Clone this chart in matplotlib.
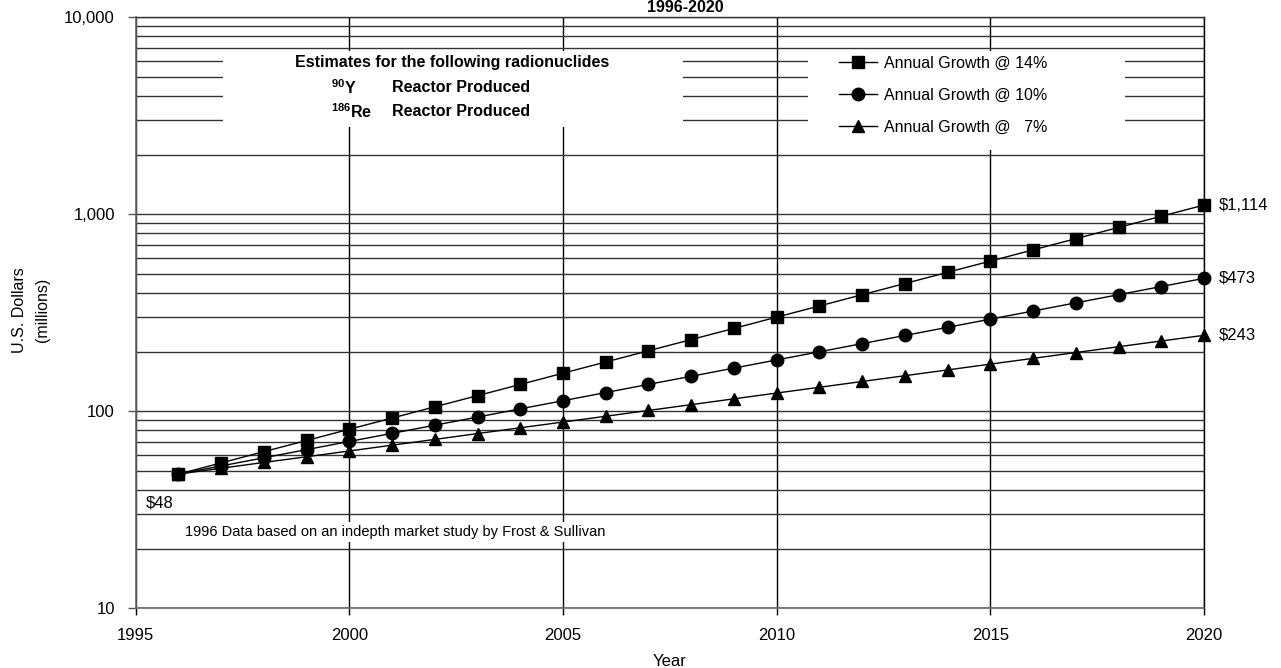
import matplotlib
matplotlib.use("Agg")
import matplotlib.pyplot as plt
from matplotlib.ticker import FixedLocator, LogLocator, NullFormatter, FixedFormatter
from matplotlib.patches import Rectangle

# ---------------- data ----------------
years = list(range(1996, 2021))
growth_14 = [48, 54.7, 62.4, 71.1, 81.1, 92.4, 105.4, 120.1, 136.9, 156.1, 178.0, 202.9,
             231.3, 263.6, 300.6, 342.6, 390.6, 445.3, 507.6, 578.7, 659.7, 752.1, 857.4,
             977.4, 1114]
growth_10 = [48, 52.8, 58.1, 63.9, 70.3, 77.3, 85.0, 93.5, 102.9, 113.2, 124.5, 137.0,
             150.6, 165.7, 182.3, 200.5, 220.6, 242.6, 266.9, 293.6, 322.9, 355.2, 390.7,
             429.8, 473]
growth_7 = [48, 51.4, 55.0, 58.8, 62.9, 67.3, 72.0, 77.1, 82.5, 88.2, 94.4, 101.0,
            108.1, 115.7, 123.8, 132.4, 141.7, 151.6, 162.2, 173.6, 185.7, 198.7, 212.7,
            227.5, 243]
series_labels = ["Annual Growth @ 14%", "Annual Growth @ 10%", "Annual Growth @   7%"]
series_markers = ["s", "o", "^"]
end_labels = ["$1,114", "$473", "$243"]
start_label = "$48"
x_ticks = [1995, 2000, 2005, 2010, 2015, 2020]
x_tick_labels = ["1995", "2000", "2005", "2010", "2015", "2020"]
y_ticks = [10, 100, 1000, 10000]
y_tick_labels = ["10", "100", "1,000", "10,000"]
title_text = "1996-2020"
box_line1 = "Estimates for the following radionuclides"
isotopes = [r"$^{90}$Y", r"$^{186}$Re"]
isotope_desc = ["Reactor Produced", "Reactor Produced"]
note_text = "1996 Data based on an indepth market study by Frost & Sullivan"
x_label = "Year"
y_label = "U.S. Dollars\n(millions)"

# ---------------- style ----------------
plt.rcParams["font.family"] = ["Liberation Sans", "DejaVu Sans"]
plt.rcParams["mathtext.fontset"] = "custom"
plt.rcParams["mathtext.rm"] = "Liberation Sans:bold"
plt.rcParams["mathtext.bf"] = "Liberation Sans:bold"
plt.rcParams["mathtext.it"] = "Liberation Sans:bold"

W, H = 1281, 668
fig = plt.figure(figsize=(W / 100, H / 100), dpi=100)
ax_l, ax_r, ax_t, ax_b = 135.7, 1204.0, 17.3, 608.3
ax = fig.add_axes([ax_l / W, 1 - ax_b / H, (ax_r - ax_l) / W, (ax_b - ax_t) / H])


def fx(px):
    return px / W


def fy(py):
    return 1 - py / H


def axx(px):
    return (px - ax_l) / (ax_r - ax_l)


def axy(py):
    return (ax_b - py) / (ax_b - ax_t)


ax.set_yscale("log")
ax.set_xlim(1995, 2020)
ax.set_ylim(10, 10000)

ax.yaxis.set_major_locator(FixedLocator(y_ticks))
ax.yaxis.set_major_formatter(FixedFormatter(y_tick_labels))
ax.yaxis.set_minor_locator(LogLocator(base=10, subs=[2, 3, 4, 5, 6, 7, 8, 9]))
ax.yaxis.set_minor_formatter(NullFormatter())
ax.xaxis.set_major_locator(FixedLocator(x_ticks))
ax.xaxis.set_major_formatter(FixedFormatter(x_tick_labels))

ax.tick_params(axis="y", which="major", direction="out", length=6, width=1,
               color="#555555", labelsize=12, pad=9)
ax.tick_params(axis="y", which="minor", length=0)
ax.tick_params(axis="x", which="major", direction="out", length=5, width=1,
               color="black", labelsize=12, pad=9)

ax.set_axisbelow(True)
ax.grid(True, axis="y", which="both", color="#333333", linewidth=1.0)
ax.grid(True, axis="x", which="major", color="black", linewidth=1.0)
ax.spines["top"].set_color("#333333")
ax.spines["top"].set_linewidth(1.0)
ax.spines["right"].set_color("black")
ax.spines["right"].set_linewidth(1.0)
ax.spines["left"].set_color("#666666")
ax.spines["bottom"].set_color("#666666")
ax.spines["left"].set_linewidth(1.2)
ax.spines["bottom"].set_linewidth(1.2)

# white boxes covering gridlines
ax.add_patch(Rectangle((axx(223), axy(127)), axx(683) - axx(223), axy(51) - axy(127),
                       transform=ax.transAxes, facecolor="white", edgecolor="none", zorder=1))
ax.add_patch(Rectangle((axx(808), axy(150)), axx(1125) - axx(808), axy(51) - axy(150),
                       transform=ax.transAxes, facecolor="white", edgecolor="none", zorder=1))

# series
handles = []
for vals, mk, lab in zip([growth_14, growth_10, growth_7], series_markers, series_labels):
    h, = ax.plot(years, vals, color="black", linewidth=1.0, marker=mk, markersize=9,
                 markerfacecolor="black", markeredgecolor="black", label=lab, zorder=3,
                 clip_on=False)
    handles.append(h)

leg = ax.legend(handles=handles, loc="upper left",
                bbox_to_anchor=(axx(839), axy(56)), frameon=False,
                fontsize=11.5, borderpad=0, borderaxespad=0, handlelength=2.4,
                handletextpad=0.4, labelspacing=1.05, markerscale=1.0)

# end labels
for vals, lab in zip([growth_14, growth_10, growth_7], end_labels):
    ax.annotate(lab, xy=(years[-1], vals[-1]), xytext=(15, 0), textcoords="offset pixels",
                ha="left", va="center", fontsize=12, annotation_clip=False)
ax.annotate(start_label, xy=(years[0], growth_14[0]), xytext=(-33, -29),
            textcoords="offset pixels", ha="left", va="center", fontsize=12)

# info box text
ax.text(axx(452), axy(63), box_line1, transform=ax.transAxes, ha="center", va="center",
        fontsize=11.5, fontweight="bold", zorder=4)
for i, (iso, desc) in enumerate(zip(isotopes, isotope_desc)):
    yy = axy(88 + 24 * i)
    ax.text(axx(331), yy, iso, transform=ax.transAxes, ha="left", va="center",
            fontsize=11.5, fontweight="bold", zorder=4)
    ax.text(axx(392), yy, desc, transform=ax.transAxes, ha="left", va="center",
            fontsize=11.5, fontweight="bold", zorder=4)

# note
ax.text(axx(185), axy(532), note_text, transform=ax.transAxes, ha="left", va="center",
        fontsize=10.5, zorder=4,
        bbox=dict(facecolor="white", edgecolor="none", pad=2))

# axis labels and title
fig.text(fx(670), fy(661), x_label, ha="center", va="center", fontsize=12)
fig.text(fx(31), fy(310), y_label, ha="center", va="center", rotation=90,
         fontsize=11.5, linespacing=1.6)
fig.text(fx(685), fy(12.5), title_text, ha="center", va="baseline", fontsize=11.5,
         fontweight="bold")

fig.savefig("out.png", dpi=100)
